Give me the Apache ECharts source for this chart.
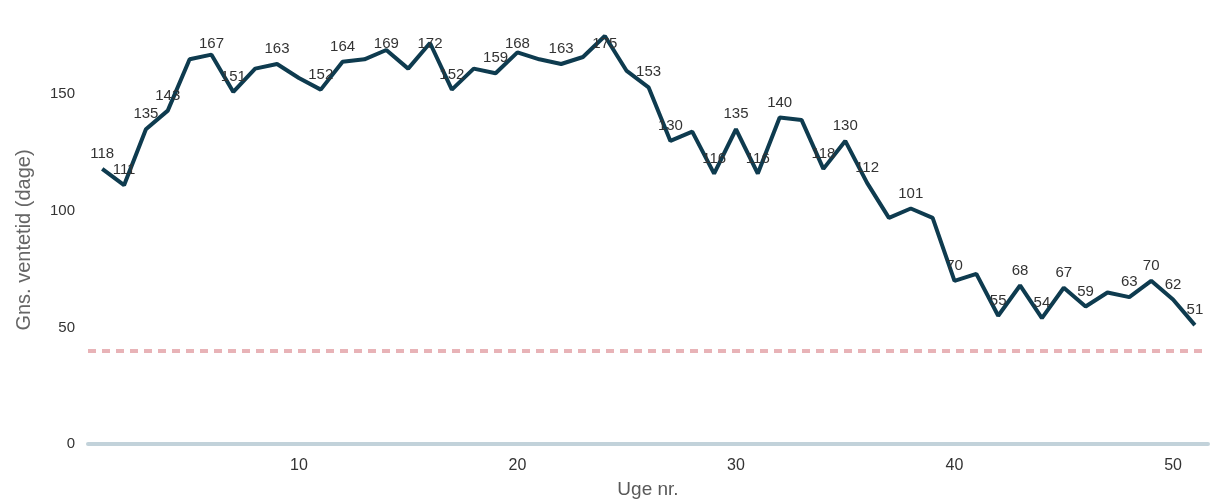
<!DOCTYPE html>
<html>
<head>
<meta charset="utf-8">
<script src="https://cdn.jsdelivr.net/npm/echarts@6/dist/echarts.min.js"></script>
<style>
html,body{margin:0;padding:0;background:#fff;}
#chart{width:1213px;height:499px;}
</style>
</head>
<body>
<div id="chart"></div>
<script>
var weeks = [1,2,3,4,5,6,7,8,9,10,11,12,13,14,15,16,17,18,19,20,21,22,23,24,25,26,27,28,29,30,31,32,33,34,35,36,37,38,39,40,41,42,43,44,45,46,47,48,49,50,51];
var waitDays = [118,111,135,143,165,167,151,161,163,157,152,164,165,169,161,172,152,161,159,168,165,163,166,175,160,153,130,134,116,135,116,140,139,118,130,112,97,101,97,70,73,55,68,54,67,59,65,63,70,62,51];
var labeledWeeks = [1,2,3,4,6,7,9,11,12,14,16,17,19,20,22,24,26,27,29,30,31,32,34,35,36,38,40,42,43,44,45,46,48,49,50,51];
var targetDays = 40;
var xTicks = [10,20,30,40,50];
var yTicks = [0,50,100,150];
var xName = 'Uge nr.';
var yName = 'Gns. ventetid (dage)';

var seriesData = weeks.map(function(w, i){
  return {value:[w, waitDays[i]], label:{show: labeledWeeks.indexOf(w) >= 0}};
});

var font = '"Liberation Sans", Arial, sans-serif';
var gridTop = 36;
var chart = echarts.init(document.getElementById('chart'), null, {renderer:'canvas'});
chart.setOption({
  animation:false,
  backgroundColor:'#ffffff',
  grid:{left:88, right:5, top:gridTop, bottom:55, containLabel:false, outerBoundsMode:'none'},
  xAxis:{
    type:'value', min:0.35, max:51.6,
    name:xName, nameLocation:'middle', nameGap:36,
    nameTextStyle:{color:'#595959', fontSize:19, fontFamily:font},
    axisLine:{show:true, lineStyle:{color:'#c2d2da', width:4}},
    axisTick:{show:false},
    splitLine:{show:false},
    axisLabel:{customValues:xTicks, color:'#333', fontSize:16, fontFamily:font, margin:14}
  },
  yAxis:{
    type:'value', min:0, max:175,
    name:yName, nameLocation:'middle', nameGap:54,
    nameTextStyle:{color:'#666', fontSize:20, fontFamily:font},
    axisLine:{show:false},
    axisTick:{show:false},
    splitLine:{show:false},
    axisLabel:{customValues:yTicks, color:'#333', fontSize:15, fontFamily:font, margin:13}
  },
  series:[{
    type:'line',
    data:seriesData,
    clip:false,
    symbol:'circle',
    symbolSize:1,
    showSymbol:true,
    showAllSymbol:true,
    lineStyle:{color:'#0e3b4f', width:4},
    itemStyle:{color:'rgba(0,0,0,0)'},
    label:{position:'top', distance:7, color:'#333', fontSize:15, fontFamily:font},
    labelLayout:function(p){
      var r = p.labelRect;
      if (r && r.y < gridTop) { return {dy: gridTop - r.y, hideOverlap:false}; }
      return {hideOverlap:false};
    },
    markLine:{
      silent:true, symbol:'none',
      label:{show:false},
      lineStyle:{type:[8,6], color:'#e8b3b7', width:4},
      data:[{yAxis:targetDays}]
    },
    z:3
  }]
});
</script>
</body>
</html>
